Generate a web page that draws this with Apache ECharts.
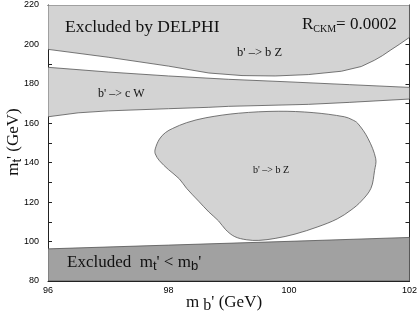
<!DOCTYPE html>
<html><head><meta charset="utf-8">
<script src="https://cdn.jsdelivr.net/npm/echarts@6/dist/echarts.min.js"></script>
<style>html,body{margin:0;padding:0;background:#fff}#c{width:420px;height:315px}</style>
</head><body><div id="c"></div>
<script>
// axis ranges / ticks
const xMin = 96, xMax = 102, xStep = 1;
const yMin = 80, yMax = 220, yStep = 10;
const xLabelEvery = 2, yLabelEvery = 20;

// region boundaries [m_b', m_t'] in GeV
const delphiRegion = [[96,220],[102,220],[102,203.6],[101.83,200],[101.69,197.2],[101.55,194.3],[101.42,192],[101.2,188.8],[100.87,186.4],[100.32,184.7],[99.77,184.0],[99.22,184.2],[98.67,185.5],[98,189.0],[97,193.5],[96,197.5]];
const cwBand = [[96,188.4],[97,186.0],[98,184.0],[99,182.3],[100,181.0],[101,179.6],[102,178.2],[102,172.3],[101,170.6],[100.32,169.6],[99,168.6],[98.67,168.1],[98,167.4],[97,166.3],[96.5,165.3],[96,163.3]];
const bzBlob = [[97.78,147],[97.85,152],[97.95,155.3],[98.07,157.4],[98.3,160.3],[98.62,162.8],[99.16,165.1],[99.82,166.1],[100.4,165.4],[100.92,163.3],[101.05,161.8],[101.14,160],[101.31,152.4],[101.44,142],[101.42,136],[101.36,127],[101.2,120.5],[101.03,116],[100.8,111.5],[100.48,107.5],[100.1,103.8],[99.77,101.6],[99.5,100.6],[99.3,100.9],[99.1,102.5],[98.95,106],[98.83,110.5],[98.67,115],[98.5,120.5],[98.3,127],[98.18,131.8],[98.0,136.5],[97.85,141],[97.78,144.5]];
const massRegion = [[96,80],[102,80],[102,102.1],[100,100.1],[98,98.2],[96,96.3]];

const LIGHT = '#d3d3d3', DARK = '#a1a1a1', EDGE = '#555';
const SERIF = '"Liberation Serif", "DejaVu Serif", serif';
const SANS = '"Liberation Sans", Arial, sans-serif';

function polySeries(name, pts, fill, smooth) {
  return {
    name, type: 'custom', coordinateSystem: 'cartesian2d', silent: true, clip: true,
    data: [pts[0]],
    renderItem: (params, api) => {
      const a = api.coord([xMin, yMax]), b = api.coord([xMax, yMin]);
      const shape = { points: pts.map(p => api.coord(p)) };
      if (smooth) { shape.smooth = smooth; shape.smoothConstraint = [[a[0], a[1]], [b[0], b[1]]]; }
      return { type: 'polygon', shape, style: { fill, stroke: EDGE, lineWidth: 0.8 } };
    }
  };
}

const axisCommon = {
  axisLine: { show: true, onZero: false, lineStyle: { color: '#222', width: 1 } },
  axisTick: { show: true, inside: true, length: 4, lineStyle: { color: '#222' } },
  splitLine: { show: false }
};

const chart = echarts.init(document.getElementById('c'), null, { renderer: 'canvas' });
chart.setOption({
  animation: false,
  backgroundColor: '#fff',
  grid: { left: 48, right: 8, top: 5, bottom: 34 },
  xAxis: [
    Object.assign({ type: 'value', min: xMin, max: xMax, interval: xStep, position: 'bottom',
      axisLabel: { formatter: v => (Math.round(v) % xLabelEvery === 0 ? String(v) : ''), color: '#000', fontSize: 9, fontFamily: SANS, margin: 5 } }, axisCommon),
    Object.assign({ type: 'value', min: xMin, max: xMax, interval: xStep, position: 'top', axisLabel: { show: false } }, axisCommon)
  ],
  yAxis: [
    Object.assign({ type: 'value', min: yMin, max: yMax, interval: yStep, position: 'left',
      axisLabel: { formatter: v => (Math.round(v) % yLabelEvery === 0 ? String(v) : ''), color: '#000', fontSize: 9, fontFamily: SANS, margin: 9 } }, axisCommon),
    Object.assign({ type: 'value', min: yMin, max: yMax, interval: yStep, position: 'right', axisLabel: { show: false } }, axisCommon)
  ],
  series: [
    polySeries('delphi', delphiRegion, LIGHT, 0),
    polySeries('cW', cwBand, LIGHT, 0),
    polySeries('bZ', bzBlob, LIGHT, 0.35),
    polySeries('mass', massRegion, DARK, 0)
  ],
  graphic: [
    { type: 'text', x: 65, y: 27, z: 100, style: { text: 'Excluded by DELPHI', font: '17.5px ' + SERIF, fill: '#111', verticalAlign: 'middle', textVerticalAlign: 'middle' } },
    { type: 'text', x: 302, y: 25, z: 100, style: { text: 'R{s|CKM}= 0.0002', font: '17px ' + SERIF, fill: '#111', verticalAlign: 'middle', textVerticalAlign: 'middle',
        rich: { s: { fontSize: 10, fontFamily: SERIF, padding: [8, 0, 0, 0], fill: '#111' } } } },
    { type: 'text', x: 237, y: 53, z: 100, style: { text: "b' –> b Z", font: '12.5px ' + SERIF, fill: '#111', verticalAlign: 'middle', textVerticalAlign: 'middle' } },
    { type: 'text', x: 98, y: 94, z: 100, style: { text: "b' –> c W", font: '12px ' + SERIF, fill: '#111', verticalAlign: 'middle', textVerticalAlign: 'middle' } },
    { type: 'text', x: 253, y: 170, z: 100, style: { text: "b' –> b Z", font: '10px ' + SERIF, fill: '#111', verticalAlign: 'middle', textVerticalAlign: 'middle' } },
    { type: 'text', x: 67, y: 263, z: 100, style: { text: "Excluded  m{s|t}' < m{s|b}'", font: '17px ' + SERIF, fill: '#111', verticalAlign: 'middle', textVerticalAlign: 'middle',
        rich: { s: { fontSize: 13, fontFamily: SANS, padding: [7, 0, 0, 0], fill: '#111' } } } },
    { type: 'text', x: 224, y: 303, z: 100, style: { text: "m {s|b}' (GeV)", font: '17px ' + SERIF, fill: '#111', align: 'center', textAlign: 'center', verticalAlign: 'middle', textVerticalAlign: 'middle',
        rich: { s: { fontSize: 16, fontFamily: SERIF, padding: [6, 0, 0, 0], fill: '#111' } } } },
    { type: 'text', x: 14, y: 142, rotation: Math.PI / 2, z: 100, style: { text: "m{s|t}' (GeV)", font: '17px ' + SERIF, fill: '#111', align: 'center', textAlign: 'center', verticalAlign: 'middle', textVerticalAlign: 'middle',
        rich: { s: { fontSize: 13, fontFamily: SANS, padding: [6, 0, 0, 0], fill: '#111' } } } }
  ]
});
</script></body></html>
